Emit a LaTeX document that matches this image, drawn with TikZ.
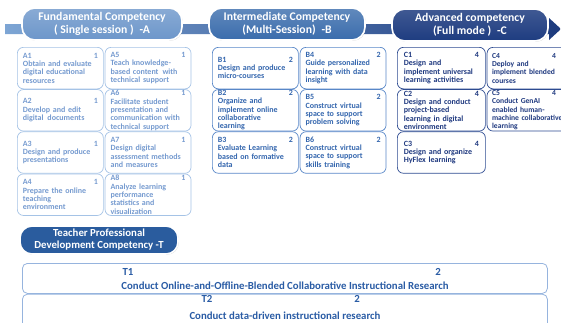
\documentclass[tikz,border=0pt]{standalone}
\usepackage{fontspec}
\setmainfont{Carlito}
\usetikzlibrary{positioning,shadows}

\definecolor{bandL}{RGB}{125,165,212}
\definecolor{bandR}{RGB}{28,58,125}
\definecolor{hdrA}{RGB}{108,150,202}
\definecolor{hdrB}{RGB}{58,108,172}
\definecolor{hdrC}{RGB}{30,60,128}
\definecolor{hdrT}{RGB}{42,92,158}
\definecolor{lineA}{RGB}{165,195,230}
\definecolor{inkA}{RGB}{118,155,208}
\definecolor{lineB}{RGB}{88,135,200}
\definecolor{inkB}{RGB}{52,102,174}
\definecolor{lineC}{RGB}{45,75,145}
\definecolor{inkC}{RGB}{32,58,128}
\definecolor{lineT}{RGB}{150,180,222}
\definecolor{inkT}{RGB}{42,92,165}

\begin{document}
\begin{tikzpicture}[
    x=1pt, y=-1pt,
    node distance=0pt,
    hdr/.style={rectangle, rounded corners=13pt, draw=white, line width=1.6pt, minimum width=156, minimum height=32, align=center, text=white, font=\fontsize{11.7}{12.5}\selectfont\bfseries, drop shadow={opacity=0.35, shadow xshift=0.8pt, shadow yshift=-0.8pt}},
    cell/.style={rectangle, rounded corners=6pt, fill=white, line width=0.7pt, minimum width=86, minimum height=41.5, inner sep=0pt, text width=75pt, align=left, font=\fontsize{8}{8.3}\selectfont\bfseries},
    cellA/.style={cell, draw=lineA, text=inkA},
    cellB/.style={cell, draw=lineB, text=inkB},
    cellC/.style={cell, draw=lineC, text=inkC},
    tbox/.style={rectangle, rounded corners=5pt, draw=lineT, line width=0.8pt, fill=white, minimum width=525, minimum height=30, anchor=north west},
    tlab/.style={text=inkT, inner sep=0pt, font=\fontsize{10.8}{12}\selectfont\bfseries}
]
    \useasboundingbox (0,0) rectangle (561,322);
    \clip (0,0) rectangle (561,322);

    % level band
    \coordinate (bandS) at (5,29);
    \coordinate (bandE) at (561,29);
    \shade[left color=bandL, right color=bandR] (bandS) ++(0,-5) -- (549,24) -- (549,18) -- (bandE) -- (549,40) -- (549,34) -- (5,34) -- cycle;

    % headers
    \node[hdr, top color=hdrA!80!white, bottom color=hdrA, minimum width=160] (headA) at (102,24) {Fundamental Competency\\( Single session )\enspace -A};
    \node[hdr, top color=hdrB!80!white, bottom color=hdrB] (headB) at (287,24) {Intermediate Competency\\(Multi-Session)\enspace -B};
    \node[hdr, top color=hdrC!85!white, bottom color=hdrC] (headC) at (470,25) {Advanced competency\\(Full mode )\enspace -C};

    % A cells
    \node[cellA, anchor=north west] (a1) at (17,47) {A1\hfill 1\hspace*{6pt}\\Obtain and evaluate\\digital educational\\resources};
    \node[cellA, below=of a1] (a2) {A2\hfill 1\hspace*{6pt}\\Develop and edit\\digital\enspace documents};
    \node[cellA, below=of a2] (a3) {A3\hfill 1\hspace*{6pt}\\Design and produce\\presentations};
    \node[cellA, below=of a3] (a4) {A4\hfill 1\hspace*{6pt}\\Prepare the online\\teaching\\environment};
    \node[cellA, right=1pt of a1] (a5) {A5\hfill 1\hspace*{6pt}\\Teach knowledge-\\based content\enspace with\\technical support};
    \node[cellA, below=of a5] (a6) {A6\hfill 1\hspace*{6pt}\\Facilitate student\\presentation and\\communication with\\technical support};
    \node[cellA, below=of a6] (a7) {A7\hfill 1\hspace*{6pt}\\Design digital\\assessment methods\\and measures};
    \node[cellA, below=of a7] (a8) {A8\hfill 1\hspace*{6pt}\\Analyze learning\\performance\\statistics and\\visualization};

    % B cells
    \node[cellB, anchor=north west] (b1) at (212,47) {B1\hfill 2\hspace*{6pt}\\Design and produce\\micro-courses};
    \node[cellB, below=of b1] (b2) {B2\hfill 2\hspace*{6pt}\\Organize and\\implement online\\collaborative\\learning};
    \node[cellB, below=of b2] (b3) {B3\hfill 2\hspace*{6pt}\\Evaluate Learning\\based on formative\\data};
    \node[cellB, right=1pt of b1] (b4) {B4\hfill 2\hspace*{6pt}\\Guide personalized\\learning with data\\insight};
    \node[cellB, below=of b4] (b5) {B5\hfill 2\hspace*{6pt}\\Construct virtual\\space to support\\problem solving};
    \node[cellB, below=of b5] (b6) {B6\hfill 2\hspace*{6pt}\\Construct virtual\\space to support\\skills training};

    % C cells
    \node[cellC, anchor=north west, minimum width=88] (c1) at (397,47) {C1\hfill 4\hspace*{8pt}\\Design and\\implement universal\\learning activities};
    \node[cellC, below=of c1, minimum width=88] (c2) {C2\hfill 4\hspace*{8pt}\\Design and conduct\\project-based\\learning in digital\\environment};
    \node[cellC, below=of c2, minimum width=88] (c3) {C3\hfill 4\hspace*{8pt}\\Design and organize\\HyFlex learning};
    \node[cellC, right=1pt of c1, text width=78pt, minimum width=88, font=\fontsize{7.6}{8.3}\selectfont\bfseries] (c4) {\makebox[60pt][l]{C4}4\\Deploy and\\implement blended\\courses};
    \node[cellC, below=of c4, text width=78pt, minimum width=88, font=\fontsize{7.6}{8.3}\selectfont\bfseries] (c5) {\makebox[60pt][l]{C5}4\\Conduct GenAI\\enabled human-\\machine collaborative\\learning};

    % teacher competency
    \node[hdr, fill=hdrT, rounded corners=12pt, minimum width=158, minimum height=26, font=\fontsize{10.8}{12}\selectfont\bfseries] (headT) at (99,240) {Teacher Professional\\Development Competency -T};

    \node[tbox] (t1) at (22,263) {};
    \node[tbox, below=of t1, minimum height=36] (t2) {};

    \node[tlab] (t1id) at (128,272) {T1};
    \node[tlab] (t1num) at (438,272) {2};
    \node[tlab] (t1txt) at (285,286) {Conduct Online-and-Offline-Blended Collaborative Instructional Research};
    \node[tlab] (t2id) at (207,299) {T2};
    \node[tlab] (t2num) at (357,299) {2};
    \node[tlab] (t2txt) at (285,316) {Conduct data-driven instructional research};
\end{tikzpicture}
\end{document}
